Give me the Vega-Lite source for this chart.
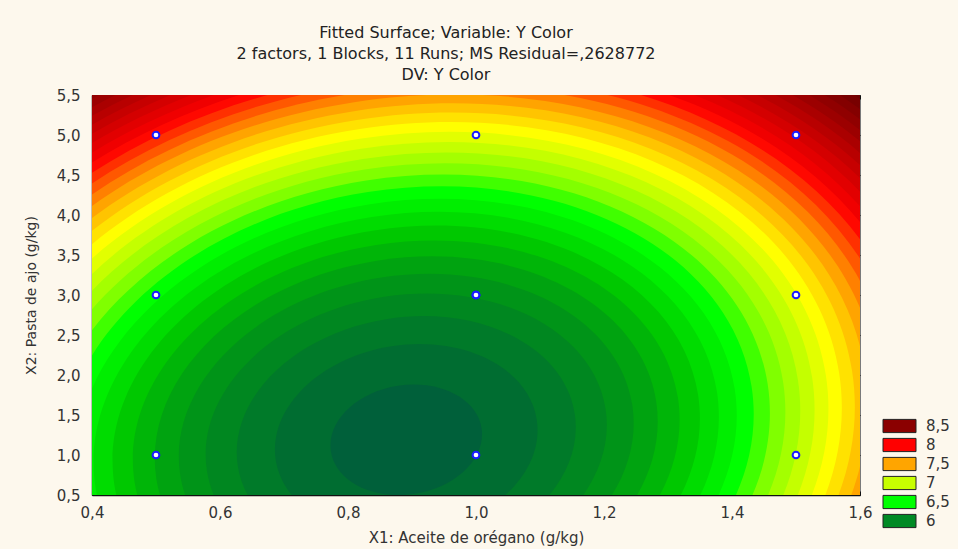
{
  "$schema": "https://vega.github.io/schema/vega-lite/v6.json",
  "width": 768,
  "height": 400,
  "autosize": {"type": "none"},
  "padding": {"left": 92, "top": 95, "right": 98, "bottom": 54},
  "background": "#fdf8ed",
  "config": {
    "view": {"stroke": "#7a7a7a", "strokeWidth": 1},
    "axis": {
      "grid": false,
      "labelFont": "DejaVu Sans",
      "labelFontSize": 15,
      "labelColor": "#333333",
      "titleFont": "DejaVu Sans",
      "titleFontSize": 15,
      "titleFontWeight": "normal",
      "titleColor": "#333333",
      "tickColor": "#111111",
      "domainColor": "#111111",
      "labelFlush": false,
      "labelOverlap": false
    }
  },
  "title": {
    "text": ["Fitted Surface; Variable: Y Color", "2 factors, 1 Blocks, 11 Runs; MS Residual=,2628772", "DV: Y Color"],
    "font": "DejaVu Sans",
    "fontSize": 16,
    "fontWeight": "normal",
    "color": "#222222",
    "lineHeight": 21,
    "anchor": "middle",
    "frame": "group",
    "dx": -30,
    "offset": 5
  },
  "datasets": {
    "bands": [
      {"z": 9.5}, {"z": 9.4}, {"z": 9.3}, {"z": 9.2}, {"z": 9.1}, {"z": 9.0},
      {"z": 8.9}, {"z": 8.8}, {"z": 8.7}, {"z": 8.6}, {"z": 8.5}, {"z": 8.4},
      {"z": 8.3}, {"z": 8.2}, {"z": 8.1}, {"z": 8.0}, {"z": 7.9}, {"z": 7.8},
      {"z": 7.7}, {"z": 7.6}, {"z": 7.5}, {"z": 7.4}, {"z": 7.3}, {"z": 7.2},
      {"z": 7.1}, {"z": 7.0}, {"z": 6.9}, {"z": 6.8}, {"z": 6.7}, {"z": 6.6},
      {"z": 6.5}, {"z": 6.4}, {"z": 6.3}, {"z": 6.2}, {"z": 6.1}, {"z": 6.0},
      {"z": 5.9}
    ],
    "design": [
      {"x1": 0.5, "x2": 1.0}, {"x1": 0.5, "x2": 3.0}, {"x1": 0.5, "x2": 5.0},
      {"x1": 1.0, "x2": 1.0}, {"x1": 1.0, "x2": 3.0}, {"x1": 1.0, "x2": 3.0},
      {"x1": 1.0, "x2": 3.0}, {"x1": 1.0, "x2": 5.0},
      {"x1": 1.5, "x2": 1.0}, {"x1": 1.5, "x2": 3.0}, {"x1": 1.5, "x2": 5.0}
    ],
    "legend": [
      {"lbl": "8,5"}, {"lbl": "8"}, {"lbl": "7,5"}, {"lbl": "7"}, {"lbl": "6,5"}, {"lbl": "6"}
    ]
  },
  "layer": [
    {
      "data": {"name": "legend"},
      "mark": {"type": "point", "filled": true, "opacity": 1, "stroke": "#222222", "strokeWidth": 1, "shape": "M-2.5,-1H2.5V1H-2.5Z", "size": 174.24},
      "encoding": {
        "x": {"datum": 1.0, "type": "quantitative", "scale": {"domain": [0.4, 1.6], "nice": false, "zero": false}, "axis": null},
        "y": {"datum": 3.0, "type": "quantitative", "scale": {"domain": [0.5, 5.5], "nice": false, "zero": false}, "axis": null},
        "fill": {
          "field": "lbl",
          "type": "nominal",
          "scale": {"domain": ["8,5", "8", "7,5", "7", "6,5", "6"], "range": ["#8b0000", "#ff0000", "#ffa500", "#c8ff00", "#00ff00", "#008a25"]},
          "legend": {
            "title": null,
            "orient": "none",
            "legendX": 800,
            "legendY": 323.5,
            "symbolType": "M-2.5,-1H2.5V1H-2.5Z",
            "symbolSize": 174.24,
            "symbolStrokeColor": "#222222",
            "symbolStrokeWidth": 1,
            "symbolOpacity": 1,
            "labelFont": "DejaVu Sans",
            "labelFontSize": 15,
            "labelColor": "#333333",
            "labelOffset": 19,
            "rowPadding": 0
          }
        }
      }
    },
    {
      "data": {"name": "bands"},
      "mark": {
        "type": "point",
        "filled": true,
        "opacity": 1,
        "strokeWidth": 0,
        "clip": true,
        "shape": "M0.9991,-0.1543C1.0602,0.2415,0.6625,0.6315,0.1107,0.7167C-0.4411,0.8019,-0.938,0.5501,-0.9991,0.1543C-1.0602,-0.2415,-0.6625,-0.6315,-0.1107,-0.7167C0.4411,-0.8019,0.938,-0.5501,0.9991,-0.1543Z"
      },
      "encoding": {
        "x": {"datum": 0.891, "type": "quantitative", "scale": {"domain": [0.4, 1.6], "nice": false, "zero": false},
              "axis": {"orient": "top", "labels": false, "title": null, "domain": false, "tickSize": -4, "values": [0.4, 0.6, 0.8, 1.0, 1.2, 1.4, 1.6]}},
        "y": {"datum": 1.19, "type": "quantitative", "scale": {"domain": [0.5, 5.5], "nice": false, "zero": false},
              "axis": {"orient": "right", "labels": false, "title": null, "domain": false, "tickSize": -4, "values": [0.5, 1.0, 1.5, 2.0, 2.5, 3.0, 3.5, 4.0, 4.5, 5.0, 5.5]}},
        "size": {"field": "z", "type": "quantitative", "scale": {"type": "linear", "domain": [5.85, 9.5], "range": [0, 1661334], "zero": false}, "legend": null},
        "fill": {
          "field": "z",
          "type": "quantitative",
          "scale": {
            "domain": [5.9, 6.0, 6.1, 6.2, 6.3, 6.4, 6.5, 6.6, 6.7, 6.8, 6.9, 7.0, 7.1, 7.2, 7.3, 7.4, 7.5, 7.6, 7.7, 7.8, 7.9, 8.0, 8.1, 8.2, 8.3, 8.4, 8.5, 8.6, 8.7, 8.8, 8.9, 9.0, 9.1, 9.2, 9.3, 9.4, 9.5],
            "range": ["#00603a", "#006d31", "#007a29", "#008720", "#009418", "#00a310", "#00b508", "#00c800", "#00dc00", "#00ee00", "#00ff00", "#40ff00", "#80ff00", "#a4ff00", "#c4ff00", "#e2ff00", "#ffff00", "#ffe200", "#ffc400", "#ffa400", "#ff8000", "#ff5800", "#ff3000", "#ff0800", "#f00000", "#e20000", "#d40000", "#c60000", "#b80000", "#aa0000", "#9c0000", "#900000", "#840000", "#780000", "#6e0000", "#640000", "#5c0000"],
            "interpolate": "rgb"
          },
          "legend": null
        },
        "order": {"field": "z", "sort": "descending"}
      }
    },
    {
      "data": {"name": "design"},
      "mark": {"type": "point", "filled": true, "fill": "#ffffff", "stroke": "#1a1aff", "strokeWidth": 2, "size": 45, "opacity": 1},
      "encoding": {
        "x": {"field": "x1", "type": "quantitative", "scale": {"domain": [0.4, 1.6], "nice": false, "zero": false},
              "axis": {"orient": "bottom", "title": "X1: Aceite de orégano (g/kg)", "values": [0.4, 0.6, 0.8, 1.0, 1.2, 1.4, 1.6],
                       "labelExpr": "replace(format(datum.value, '.1f'), '.', ',')", "tickSize": -4, "labelPadding": 14, "titlePadding": 10, "domainWidth": 1.5}},
        "y": {"field": "x2", "type": "quantitative", "scale": {"domain": [0.5, 5.5], "nice": false, "zero": false},
              "axis": {"orient": "left", "title": "X2: Pasta de ajo (g/kg)", "values": [0.5, 1.0, 1.5, 2.0, 2.5, 3.0, 3.5, 4.0, 4.5, 5.0, 5.5],
                       "labelExpr": "replace(format(datum.value, '.1f'), '.', ',')", "tickSize": -4, "labelPadding": 16, "titlePadding": 18, "titleFontSize": 14, "domainWidth": 1.5}}
      }
    }
  ],
  "resolve": {
    "scale": {"fill": "independent", "size": "independent"},
    "axis": {"x": "independent", "y": "independent"}
  }
}
